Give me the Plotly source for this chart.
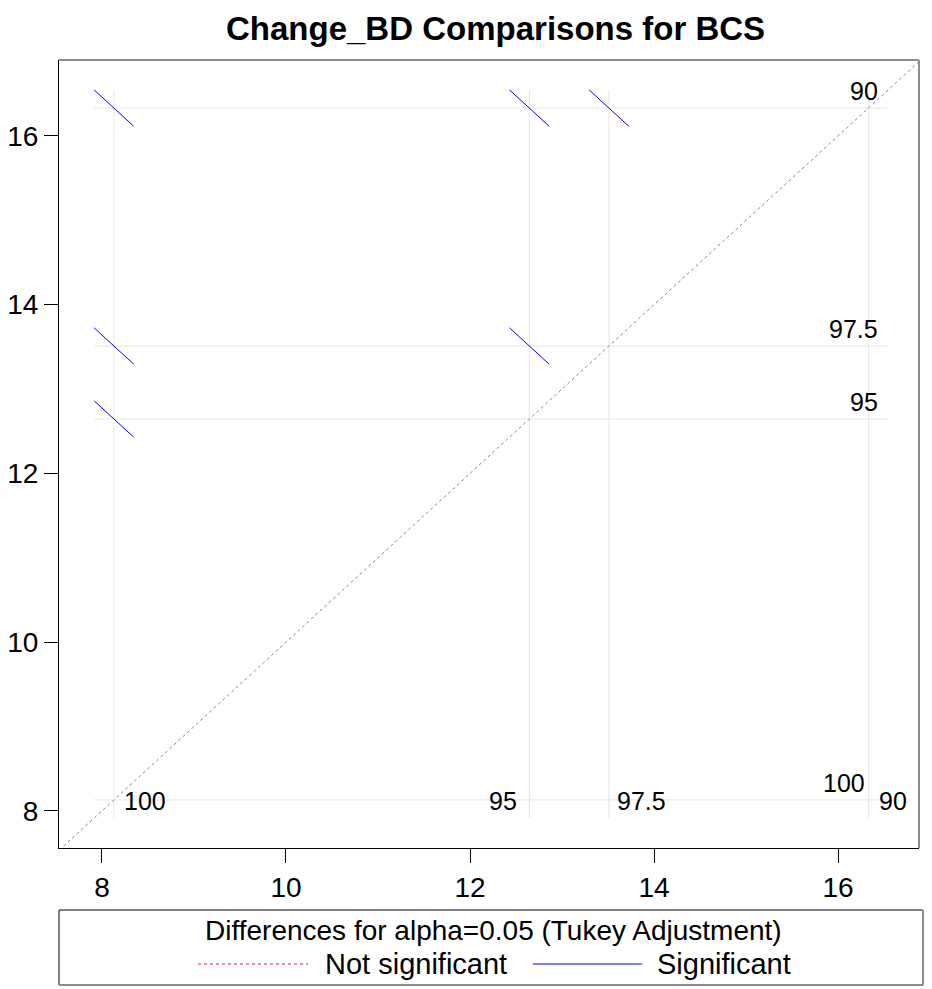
import plotly.graph_objects as go

# ---------------- data ----------------
groups = ["100", "95", "97.5", "90"]
means = [8.13, 12.645, 13.51, 16.33]          # LS-means of Change_BD by BCS
pair_low = [0, 0, 0, 1, 1, 2]                  # index of lower-mean group
pair_high = [3, 2, 1, 3, 2, 3]                 # index of higher-mean group
half_len = [0.215, 0.215, 0.215, 0.215, 0.215, 0.215]
significant = [True, True, True, True, True, True]
x_range = [7.533, 16.88]
y_range = [7.56, 16.90]
tick_vals = [8, 10, 12, 14, 16]

# ---------------- styles ----------------
FONT = "Liberation Sans, Arial, sans-serif"
GRID = "#e6e6e6"
SIG = "#0000ff"
NSIG = "#c8283c"

fig = go.Figure()

ext = max(half_len)
lo = min(means) - ext
hi = max(means) + ext

# reference grid lines at each mean
for m in means:
    fig.add_trace(go.Scatter(x=[lo, hi], y=[m, m], mode="lines",
                             line=dict(color=GRID, width=1), hoverinfo="skip",
                             showlegend=False))
    fig.add_trace(go.Scatter(x=[m, m], y=[lo, hi], mode="lines",
                             line=dict(color=GRID, width=1), hoverinfo="skip",
                             showlegend=False))

# diagonal reference
d0, d1 = min(x_range[0], y_range[0]), max(x_range[1], y_range[1])
fig.add_trace(go.Scatter(x=[d0, d1], y=[d0, d1], mode="lines",
                         line=dict(color="#888888", width=1, dash="dot"),
                         hoverinfo="skip", showlegend=False))

# diffogram segments
for a, b, w, s in zip(pair_low, pair_high, half_len, significant):
    xa, yb = means[a], means[b]
    fig.add_trace(go.Scatter(x=[xa - w, xa + w], y=[yb + w, yb - w], mode="lines",
                             line=dict(color=SIG if s else NSIG, width=1,
                                       dash="solid" if s else "dash"),
                             showlegend=False))

# labels at right (horizontal lines) and bottom (vertical lines)
right_shift = {"100": -21, "95": -8, "97.5": -8, "90": -8}
bottom_style = {"100": ("left", 8), "95": ("right", -10),
                "97.5": ("left", 6), "90": ("left", 9)}
for g, m in zip(groups, means):
    fig.add_annotation(x=hi, y=m, xref="x", yref="y", text=g, showarrow=False,
                       xanchor="right", yanchor="middle", xshift=right_shift[g],
                       yshift=17, font=dict(family=FONT, size=25, color="black"))
    anc, sh = bottom_style[g]
    fig.add_annotation(x=m, y=min(means), xref="x", yref="y", text=g,
                       showarrow=False, xanchor=anc, yanchor="middle",
                       xshift=sh, yshift=-1,
                       font=dict(family=FONT, size=25, color="black"))

# title
fig.add_annotation(x=0.508, y=1.0406, xref="paper", yref="paper",
                   text="<b>Change_BD Comparisons for BCS</b>", showarrow=False,
                   xanchor="center", yanchor="middle",
                   font=dict(family=FONT, size=33, color="black"))

# frame top/right (gray)
fig.add_shape(type="line", xref="paper", yref="paper", x0=0, x1=1, y0=1, y1=1,
              line=dict(color="#8c8c8c", width=2))
fig.add_shape(type="line", xref="paper", yref="paper", x0=1, x1=1, y0=0, y1=1,
              line=dict(color="#8c8c8c", width=2))

# legend box
ly0, ly1 = -0.1739, -0.0787
fig.add_shape(type="line", xref="paper", yref="paper", x0=0, x1=1.0047, y0=ly1, y1=ly1,
              line=dict(color="black", width=1))
fig.add_shape(type="line", xref="paper", yref="paper", x0=0, x1=0, y0=ly0, y1=ly1,
              line=dict(color="black", width=1))
fig.add_shape(type="line", xref="paper", yref="paper", x0=0, x1=1.0047, y0=ly0, y1=ly0,
              line=dict(color="#8c8c8c", width=2))
fig.add_shape(type="line", xref="paper", yref="paper", x0=1.0047, x1=1.0047, y0=ly0, y1=ly1,
              line=dict(color="#8c8c8c", width=2))
fig.add_annotation(x=0.5047, y=-0.1053, xref="paper", yref="paper",
                   text="Differences for alpha=0.05 (Tukey Adjustment)",
                   showarrow=False, xanchor="center", yanchor="middle",
                   font=dict(family=FONT, size=28, color="black"))
ey = -0.1472
fig.add_shape(type="line", xref="paper", yref="paper", x0=0.1616, x1=0.2895, y0=ey, y1=ey,
              line=dict(color=NSIG, width=1, dash="dot"))
fig.add_annotation(x=0.307, y=ey, xref="paper", yref="paper", text="Not significant",
                   showarrow=False, xanchor="left", yanchor="middle",
                   font=dict(family=FONT, size=29, color="black"))
fig.add_shape(type="line", xref="paper", yref="paper", x0=0.551, x1=0.678, y0=ey, y1=ey,
              line=dict(color=SIG, width=1))
fig.add_annotation(x=0.693, y=ey, xref="paper", yref="paper", text="Significant",
                   showarrow=False, xanchor="left", yanchor="middle",
                   font=dict(family=FONT, size=29, color="black"))

axis_common = dict(tickvals=tick_vals, ticks="outside", ticklen=14,
                   tickcolor="black", tickwidth=1, showline=True, linecolor="black",
                   linewidth=1, showgrid=False, zeroline=False, automargin=False,
                   tickfont=dict(family=FONT, size=28, color="black"))
fig.update_xaxes(range=x_range, **axis_common)
fig.update_yaxes(range=y_range, **axis_common)

fig.update_layout(width=932, height=989, autosize=False,
                  margin=dict(l=59, r=13, t=60, b=141),
                  plot_bgcolor="white", paper_bgcolor="white",
                  showlegend=False, font=dict(family=FONT))

fig.write_html("out.html")
